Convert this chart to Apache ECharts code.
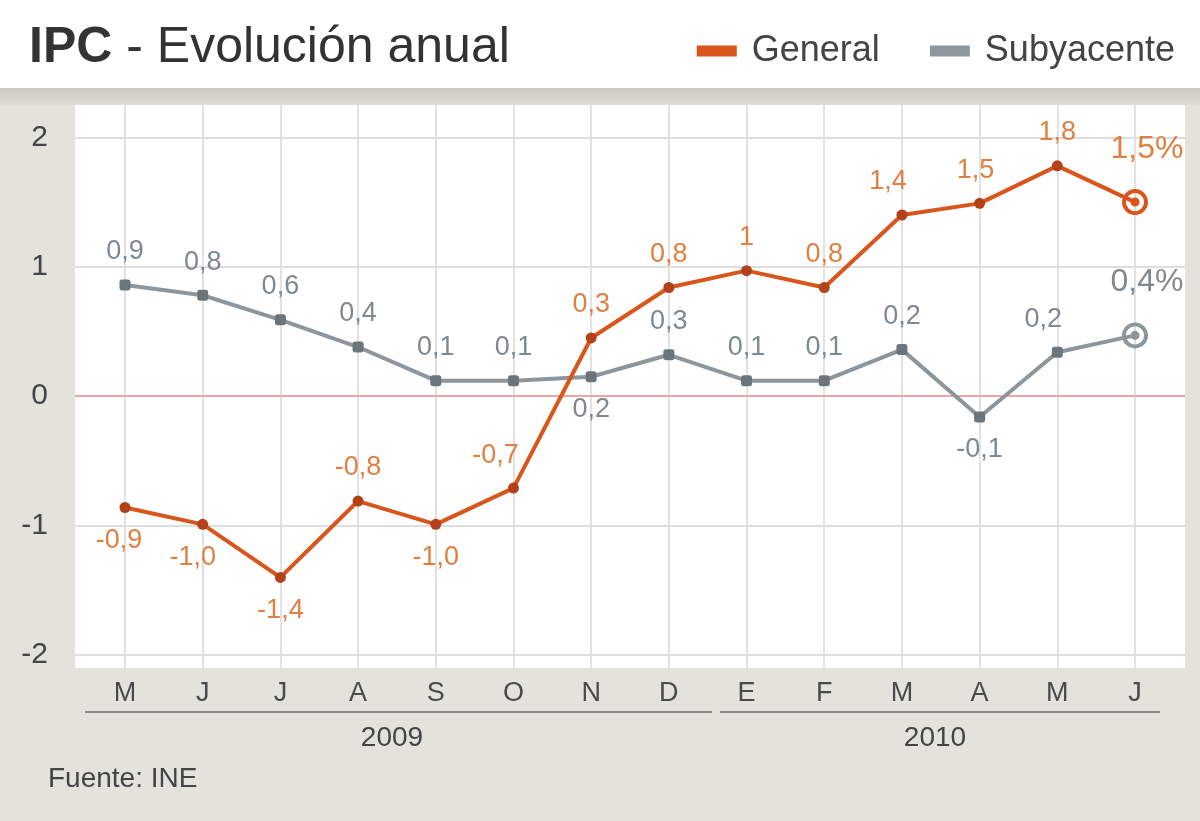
<!DOCTYPE html>
<html><head><meta charset="utf-8">
<script src="https://cdn.jsdelivr.net/npm/echarts@6/dist/echarts.min.js"></script>
<style>html,body{margin:0;padding:0;background:#fff}#c{width:1200px;height:821px}</style>
</head><body><div id="c"></div>
<script>
const months = ['M','J','J','A','S','O','N','D','E','F','M','A','M','J'];
const years = ['2009', '2010'];
const general = [-0.86,-0.99,-1.40,-0.81,-0.99,-0.71,0.45,0.84,0.97,0.84,1.40,1.49,1.78,1.50];
const generalLabels = ['-0,9','-1,0','-1,4','-0,8','-1,0','-0,7','0,3','0,8','1','0,8','1,4','1,5','1,8','1,5%'];
const subyacente = [0.86,0.78,0.59,0.38,0.12,0.12,0.15,0.32,0.12,0.12,0.36,-0.16,0.34,0.47];
const subyacenteLabels = ['0,9','0,8','0,6','0,4','0,1','0,1','0,2','0,3','0,1','0,1','0,2','-0,1','0,2','0,4%'];
const yTicks = [-2, -1, 0, 1, 2];

const FONT = '"Liberation Sans", Arial, sans-serif';
const ORANGE = '#d8561c', ORANGE_DOT = '#b3421a', ORANGE_TXT = '#e07f42';
const GRAY = '#8d969c', GRAY_DOT = '#6b757b', GRAY_TXT = '#7f898f';
const RING = 'path://M2,12 A10,10 0 1,0 22,12 A10,10 0 1,0 2,12 Z M5,12 A7,7 0 1,1 19,12 A7,7 0 1,1 5,12 Z M8.5,12 A3.5,3.5 0 1,0 15.5,12 A3.5,3.5 0 1,0 8.5,12 Z';

const genPlace = ['bottom','bottom','bottom','top','bottom','top','top','top','top','top','top','top','top','top'];
const genOff = {0:[-6,0],1:[-10,0],5:[-18,0],10:[-14,0],11:[-4,0]};
const subPlace = ['top','top','top','top','top','top','bottom','top','top','top','top','bottom','top','top'];
const subOff = {12:[-14,0]};

function build(vals, labels, place, offs, color, dotColor, txtColor, symbol) {
  const last = vals.length - 1;
  return vals.map((v, i) => {
    const item = {
      value: v,
      symbol: symbol,
      symbolSize: 11,
      itemStyle: {color: dotColor},
      label: {show: true, formatter: labels[i], position: place[i], distance: 14,
        offset: offs[i] || [0, 0], color: txtColor, fontSize: 27, fontFamily: FONT}
    };
    if (i === last) {
      item.symbol = RING;
      item.symbolSize = 26;
      item.itemStyle = {color: color};
      item.label = {show: true, formatter: labels[i], position: 'top', distance: 14,
        offset: [12, -10], color: txtColor, fontSize: 32, fontFamily: FONT};
    }
    return item;
  });
}

const gridLines = yTicks.map(v => [
  {yAxis: v, x: 75, lineStyle: {color: v === 0 ? '#eba5a0' : '#dedede', width: 2, type: 'solid'}},
  {yAxis: v, x: 1185}
]);

const chart = echarts.init(document.getElementById('c'));
chart.setOption({
  backgroundColor: '#e3e3dc',
  animation: false,
  textStyle: {fontFamily: FONT},
  graphic: [
    {type: 'rect', shape: {x: 0, y: 0, width: 1200, height: 88}, style: {fill: '#ffffff'}, z: -10},
    {type: 'rect', shape: {x: 0, y: 88, width: 1200, height: 17},
      style: {fill: new echarts.graphic.LinearGradient(0, 0, 0, 1, [{offset: 0, color: '#c9c9c1'}, {offset: 1, color: '#deded6'}])}, z: -10},
    {type: 'rect', shape: {x: 75, y: 105, width: 1110, height: 563}, style: {fill: '#ffffff'}, z: -10},
    {type: 'line', shape: {x1: 85, y1: 712, x2: 712, y2: 712}, style: {stroke: '#8a8a8a', lineWidth: 2}},
    {type: 'line', shape: {x1: 720, y1: 712, x2: 1160, y2: 712}, style: {stroke: '#8a8a8a', lineWidth: 2}},
    {type: 'text', x: 392, y: 738, style: {text: years[0], fill: '#444', font: '28px ' + FONT, textAlign: 'center', textVerticalAlign: 'middle'}},
    {type: 'text', x: 935, y: 738, style: {text: years[1], fill: '#444', font: '28px ' + FONT, textAlign: 'center', textVerticalAlign: 'middle'}},
    {type: 'text', x: 48, y: 779, style: {text: 'Fuente: INE', fill: '#444', font: '28px ' + FONT, textVerticalAlign: 'middle'}}
  ],
  title: {
    text: '{b|IPC} - Evolución anual',
    left: 24, top: 18,
    textStyle: {fontSize: 50, fontWeight: 'normal', color: '#333', fontFamily: FONT,
      rich: {b: {fontSize: 50, fontWeight: 'bold', color: '#333', fontFamily: FONT}}}
  },
  legend: {
    right: 20, top: 28, itemGap: 50, itemWidth: 40, itemHeight: 11, icon: 'rect',
    textStyle: {fontSize: 36, color: '#444', fontFamily: FONT, padding: [0, 0, 0, 10]},
    data: ['General', 'Subyacente']
  },
  grid: {left: 125, right: 65, top: 105, bottom: 153},
  xAxis: {
    type: 'category', data: months, boundaryGap: false,
    axisLine: {show: false}, axisTick: {show: false},
    axisLabel: {fontSize: 27, color: '#4a4a4a', margin: 12, fontFamily: FONT},
    splitLine: {show: true, lineStyle: {color: '#e2e2e2', width: 2}}
  },
  yAxis: {
    type: 'value', min: -2.1, max: 2.25, interval: 0.05,
    axisLine: {show: false}, axisTick: {show: false}, splitLine: {show: false},
    axisLabel: {
      fontSize: 30, color: '#444', margin: 77, align: 'right', fontFamily: FONT,
      formatter: v => Math.abs(v - Math.round(v)) < 1e-6 && yTicks.includes(Math.round(v)) ? String(Math.round(v)) : ''
    }
  },
  series: [
    {
      name: 'Subyacente', type: 'line', z: 3,
      data: build(subyacente, subyacenteLabels, subPlace, subOff, GRAY, GRAY_DOT, GRAY_TXT, 'roundRect'),
      lineStyle: {color: GRAY, width: 4}, itemStyle: {color: GRAY},
      markLine: {silent: true, symbol: 'none', z: 1, label: {show: false}, data: gridLines}
    },
    {
      name: 'General', type: 'line', z: 4,
      data: build(general, generalLabels, genPlace, genOff, ORANGE, ORANGE_DOT, ORANGE_TXT, 'circle'),
      lineStyle: {color: ORANGE, width: 4}, itemStyle: {color: ORANGE}
    }
  ]
});
</script></body></html>
